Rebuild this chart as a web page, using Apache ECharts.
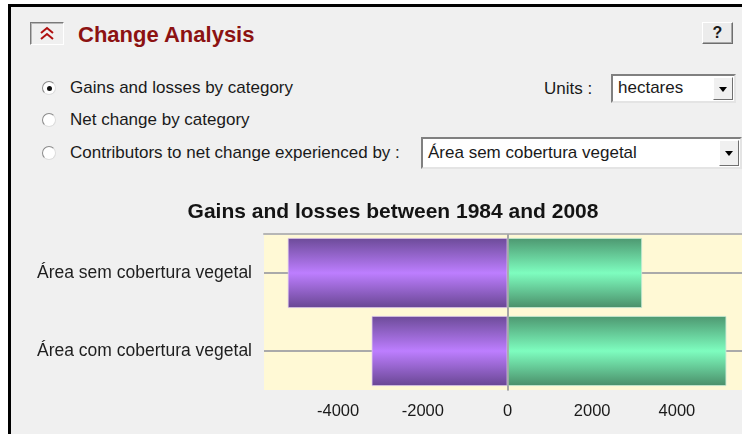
<!DOCTYPE html>
<html>
<head>
<meta charset="utf-8">
<script src="https://cdn.jsdelivr.net/npm/echarts@6/dist/echarts.min.js"></script>
<style>
  html, body { margin: 0; padding: 0; width: 742px; height: 434px; overflow: hidden; background: #fff; }
  body { position: relative; font-family: 'Liberation Sans', Arial, sans-serif; color: #1a1a1a; }
  .frame { position: absolute; left: 8px; top: 4px; width: 760px; height: 460px; background: #f0f0f0;
           border-left: 3px solid #000; border-top: 3px solid #000; }
  .abs { position: absolute; white-space: nowrap; }
  .txt { font-size: 17px; line-height: 20px; }
  .head { font-size: 22px; font-weight: bold; color: #8c1212; line-height: 26px; }
  .collapse { left: 30px; top: 22px; width: 32px; height: 21px; background: #f0f0f0;
              border: 1px solid; border-color: #7a7a7a #fff #fff #7a7a7a; box-shadow: inset 1px 1px #b8b8b8; }
  .help { left: 702px; top: 22px; width: 29px; height: 20px; background: #ececec; text-align: center;
          border: 1px solid; border-color: #fff #6e6e6e #6e6e6e #fff; box-shadow: inset -1px -1px #a8a8a8;
          font-weight: bold; font-size: 16px; line-height: 20px; }
  .radio { width: 12px; height: 12px; border-radius: 50%; background: #fff;
           border: 1px solid; border-color: #8a8a8a #dcdcdc #dcdcdc #8a8a8a; }
  .dot { position: absolute; left: 3.5px; top: 3.5px; width: 5px; height: 5px; border-radius: 50%; background: #111; }
  .select { background: #fff; border: 2px solid; border-color: #808080 #e4e4e4 #e4e4e4 #808080; }
  .select span { position: absolute; left: 5px; font-size: 17px; }
  .arrow { position: absolute; top: 1px; right: 1px; width: 18px; background: #f0f0f0;
           border: 1px solid; border-color: #fff #707070 #707070 #fff; }
  .arrow:after { content: ''; position: absolute; left: 5px; top: 50%; margin-top: -2px;
                 border-left: 4px solid transparent; border-right: 4px solid transparent; border-top: 5px solid #000; }
  #chart { position: absolute; left: 0; top: 0; width: 760px; height: 434px; }
</style>
</head>
<body>
<div class="frame"></div>

<div class="abs collapse">
  <svg width="32" height="21" viewBox="0 0 32 21">
    <polyline points="10,10 16,5 22,10" fill="none" stroke="#b01010" stroke-width="2"/>
    <polyline points="10,16 16,11 22,16" fill="none" stroke="#b01010" stroke-width="2"/>
  </svg>
</div>
<div class="abs head" style="left:78px; top:22px;">Change Analysis</div>
<div class="abs help">?</div>

<div class="abs radio" style="left:42px; top:81px;"><div class="dot"></div></div>
<div class="abs txt" style="left:70px; top:78px;">Gains and losses by category</div>
<div class="abs radio" style="left:42px; top:113px;"></div>
<div class="abs txt" style="left:70px; top:110px;">Net change by category</div>
<div class="abs radio" style="left:42px; top:146px;"></div>
<div class="abs txt" style="left:70px; top:143px;">Contributors to net change experienced by :</div>

<div class="abs txt" style="left:544px; top:79px;">Units :</div>
<div class="abs select" style="left:611px; top:74px; width:121px; height:25px;">
  <span style="top:2px;">hectares</span>
  <div class="arrow" style="height:21px;"></div>
</div>
<div class="abs select" style="left:421px; top:137px; width:317px; height:28px;">
  <span style="top:4px;">Área sem cobertura vegetal</span>
  <div class="arrow" style="height:24px;"></div>
</div>

<div id="chart"></div>

<script>
// data
var categories = ['Área sem cobertura vegetal', 'Área com cobertura vegetal']
var losses = [-5190, -3210]
var gains = [3180, 5170]
var tickValues = [-4000, -2000, 0, 2000, 4000]
var chartTitle = 'Gains and losses between 1984 and 2008'

var font = 'Liberation Sans'

function barGradient(edge, mid, bottom) {
  return {
    type: 'linear', x: 0, y: 0, x2: 0, y2: 1,
    colorStops: [
      { offset: 0, color: edge },
      { offset: 0.5, color: mid },
      { offset: 1, color: bottom }
    ]
  }
}

var chart = echarts.init(document.getElementById('chart'))
chart.setOption({
  backgroundColor: 'transparent',
  animation: false,
  title: {
    text: chartTitle,
    left: 388,
    top: 197,
    textAlign: 'center',
    textStyle: { fontFamily: font, fontSize: 21, fontWeight: 'bold', color: '#141414' }
  },
  grid: {
    left: 264, top: 234, width: 487, height: 156,
    show: true, backgroundColor: '#fff9d5', borderWidth: 0
  },
  xAxis: [{
    type: 'value',
    min: -5750,
    max: 5750,
    axisLine: { show: false },
    splitLine: { show: false },
    axisTick: { customValues: tickValues, length: 6, lineStyle: { color: '#9c9c9c', width: 1 } },
    axisLabel: {
      customValues: tickValues,
      margin: 13,
      fontFamily: font,
      fontSize: 16.5,
      color: '#1a1a1a',
      formatter: function(v) { return String(v) }
    }
  }, {
    type: 'value',
    position: 'top',
    min: -5750,
    max: 5750,
    axisLine: { show: true, lineStyle: { color: '#b6b6b6', width: 2 } },
    axisTick: { show: false },
    axisLabel: { show: false },
    splitLine: { show: false }
  }],
  yAxis: {
    type: 'category',
    data: categories,
    inverse: true,
    axisLine: { lineStyle: { color: '#b2b2b2', width: 2 } },
    axisTick: { alignWithLabel: true, length: 11, lineStyle: { color: '#a8a8a8', width: 2 } },
    axisLabel: { margin: 12, fontFamily: font, fontSize: 17.5, color: '#1e1e1e' }
  },
  series: [{
    name: 'Losses',
    type: 'bar',
    stack: 'change',
    data: losses,
    barCategoryGap: '10%',
    itemStyle: {
      color: barGradient('#6c4b98', '#bd7eff', '#684692'),
      borderColor: 'rgba(220,200,240,0.7)',
      borderWidth: 1
    }
  }, {
    name: 'Gains',
    type: 'bar',
    stack: 'change',
    data: gains,
    itemStyle: {
      color: barGradient('#4d9770', '#7efdbf', '#4a8e69'),
      borderColor: 'rgba(200,235,215,0.8)',
      borderWidth: 1
    },
    markLine: {
      silent: true,
      symbol: 'none',
      z: 5,
      label: { show: false },
      lineStyle: { color: '#a2a2a2', width: 1.5, type: 'solid' },
      data: [{ xAxis: 0 }]
    }
  }, {
    // category guide lines behind the bars
    name: 'guides',
    type: 'line',
    data: [],
    markLine: {
      silent: true,
      symbol: 'none',
      z: 1,
      label: { show: false },
      lineStyle: { color: '#aaaaaa', width: 2, type: 'solid' },
      data: categories.map(function(c) { return { yAxis: c } })
    }
  }]
})
</script>
</body>
</html>
